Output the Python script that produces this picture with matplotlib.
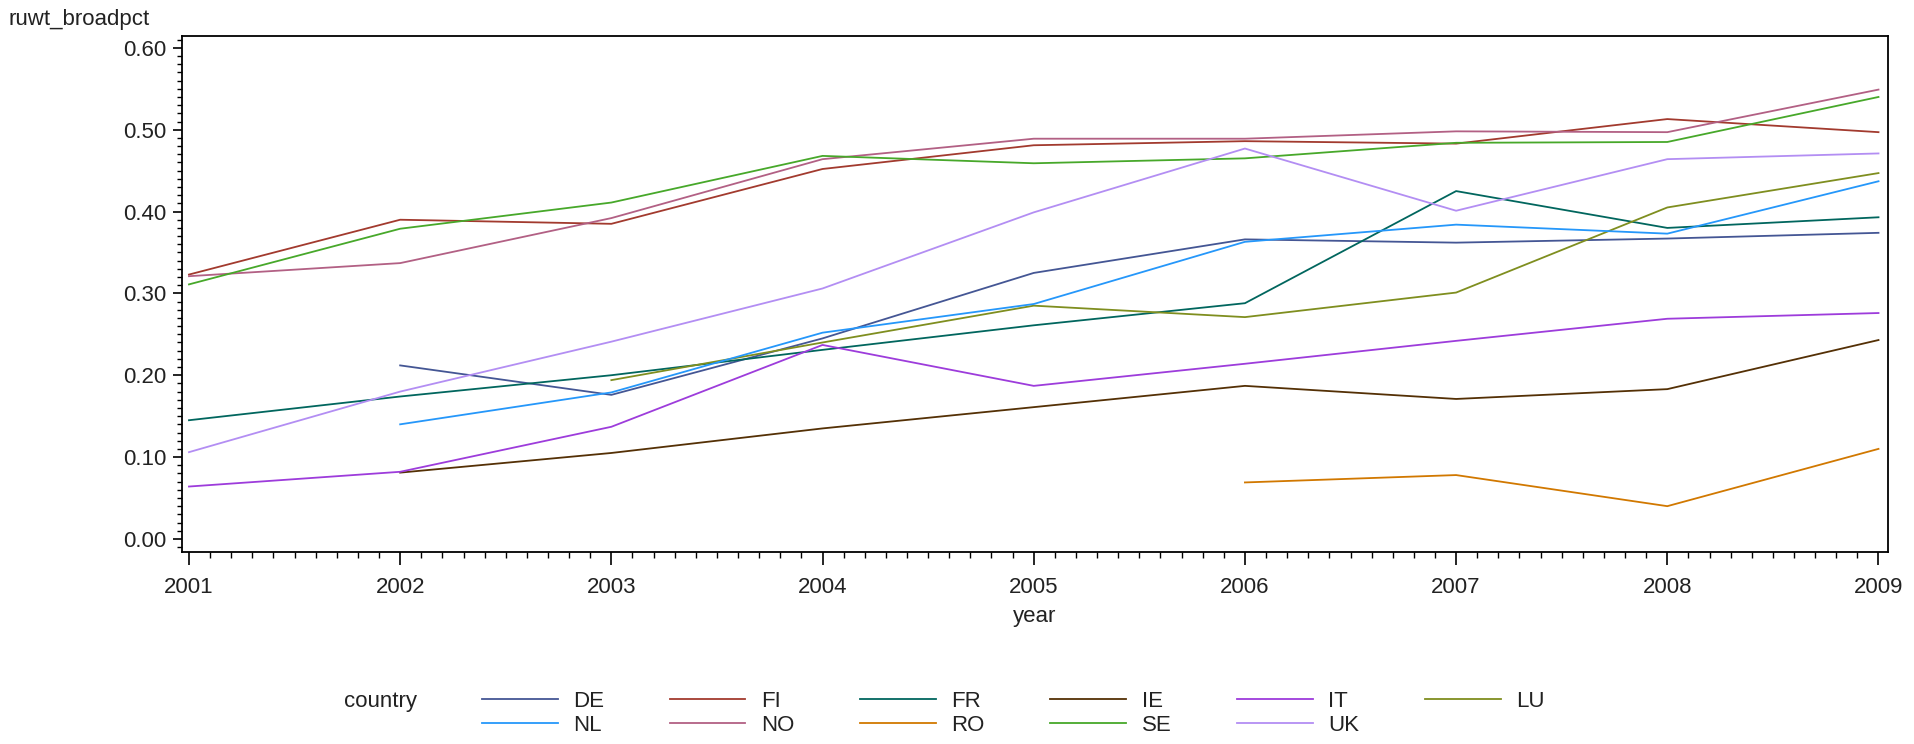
import numpy as np
import matplotlib
matplotlib.use('Agg')
from matplotlib import pyplot as plt
from matplotlib import ticker as tk

nan = np.nan

years = [2001, 2002, 2003, 2004, 2005, 2006, 2007, 2008, 2009]

de = [nan, 0.212, 0.176, 0.245, 0.325, 0.366, 0.362, 0.367, 0.374]
fi = [0.323, 0.390, 0.385, 0.452, 0.481, 0.486, 0.483, 0.513, 0.497]
fr = [0.145, 0.174, 0.200, 0.231, 0.261, 0.288, 0.425, 0.380, 0.393]
ie = [nan, 0.081, 0.105, 0.135, 0.161, 0.187, 0.171, 0.183, 0.243]
it = [0.064, 0.082, 0.137, 0.237, 0.187, 0.214, 0.242, 0.269, 0.276]
lu = [nan, nan, 0.194, 0.240, 0.285, 0.271, 0.301, 0.405, 0.447]
nl = [nan, 0.140, 0.179, 0.252, 0.287, 0.363, 0.384, 0.373, 0.437]
no = [0.321, 0.337, 0.392, 0.464, 0.489, 0.489, 0.498, 0.497, 0.549]
ro = [nan, nan, nan, nan, nan, 0.069, 0.078, 0.040, 0.110]
se = [0.311, 0.379, 0.411, 0.468, 0.459, 0.465, 0.484, 0.485, 0.540]
uk = [0.106, 0.180, 0.241, 0.306, 0.399, 0.477, 0.401, 0.464, 0.471]

countries = ['DE', 'FI', 'FR', 'IE', 'IT', 'LU', 'NL', 'NO', 'RO', 'SE', 'UK']
series = [de, fi, fr, ie, it, lu, nl, no, ro, se, uk]
# SAS HTMLBlue style colours
COLORS = ['#445694', '#A23A2E', '#01665E', '#543005', '#9D3CDB', '#7F8E1F',
          '#2597FA', '#B26084', '#D17800', '#47A82A', '#B38EF3']

plt.rcParams.update({'font.family': ['Liberation Sans', 'DejaVu Sans'],
                     'font.size': 16})

W, H = 1915, 744
fig = plt.figure(figsize=(W / 100, H / 100), dpi=100)
ax = fig.add_axes([182 / W, 1 - 552 / H, (1888 - 182) / W, (552 - 36) / H])

handles = {}
for name, vals, col in zip(countries, series, COLORS):
    line, = ax.plot(years, vals, color=col, linewidth=1.3, label=name)
    handles[name] = line

ax.set_xlim(2001 - 0.033, 2009 + 0.045)
ax.set_ylim(-0.016, 0.6145)

ax.xaxis.set_major_locator(tk.MultipleLocator(1))
ax.xaxis.set_minor_locator(tk.MultipleLocator(0.1))
ax.xaxis.set_major_formatter(tk.FormatStrFormatter('%d'))
ax.yaxis.set_major_locator(tk.MultipleLocator(0.1))
ax.yaxis.set_minor_locator(tk.MultipleLocator(0.01))
ax.yaxis.set_major_formatter(tk.FormatStrFormatter('%.2f'))

ax.tick_params(axis='x', which='major', direction='out', length=9, width=1.2, pad=9)
ax.tick_params(axis='x', which='minor', direction='out', length=4.5, width=1.0)
ax.tick_params(axis='y', which='major', direction='out', length=6.5, width=1.2, pad=5)
ax.tick_params(axis='y', which='minor', direction='out', length=3.5, width=1.0)
ax.tick_params(labelcolor='#222222')
for sp in ax.spines.values():
    sp.set_linewidth(1.3)

ax.set_xlabel('year', labelpad=6, color='#222222')
fig.text(8 / W, 1 - 20 / H, 'ruwt_broadpct', ha='left', va='center',
         fontsize=16, color='#222222')

# legend: row 1 DE FI FR IE IT LU, row 2 NL NO RO SE UK
order = ['DE', 'NL', 'FI', 'NO', 'FR', 'RO', 'IE', 'SE', 'IT', 'UK', 'LU']
fig.text(344 / W, 1 - 702 / H, 'country', ha='left', va='center',
         fontsize=16, color='#222222')
leg = fig.legend([handles[k] for k in order], order, ncol=6,
                 loc='upper left', bbox_to_anchor=(482 / W, 1 - 691 / H),
                 frameon=False, borderpad=0, borderaxespad=0,
                 handlelength=3.4, handletextpad=0.7, columnspacing=2.96,
                 labelspacing=0.14, fontsize=16)
for t in leg.get_texts():
    t.set_color('#222222')

fig.savefig('out.png', dpi=100)
